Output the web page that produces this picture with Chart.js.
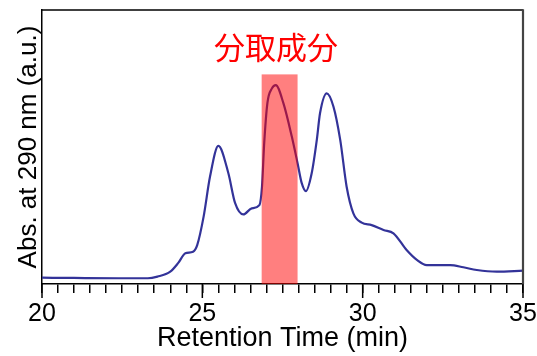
<!DOCTYPE html>
<html>
<head>
<meta charset="utf-8">
<script src="https://cdn.jsdelivr.net/npm/chart.js@4/dist/chart.umd.min.js"></script>
<style>
html,body{margin:0;padding:0;background:#fff;}
#wrap{width:537px;height:356px;position:relative;}
</style>
</head>
<body>
<div id="wrap"><canvas id="c" width="537" height="356"></canvas></div>
<script>
// Retention time (min)
const retentionTime = [20.0, 21.0, 22.4, 23.3, 23.6, 24.0, 24.25, 24.47, 24.71, 24.84, 25.04, 25.24, 25.5,
  25.81, 26.02, 26.28, 26.54, 26.78, 26.86, 26.93, 27.03, 27.17, 27.29, 27.53, 27.79, 27.97, 28.1, 28.23,
  28.41, 28.57, 28.67, 28.88, 29.09, 29.3, 29.5, 29.71, 29.97, 30.28, 30.65, 30.96, 31.37, 31.69, 32.0,
  32.4, 32.73, 33.14, 33.56, 34.18, 35.0];
// Absorbance at 290 nm (a.u.)
const absorbance = [2.3, 2.2, 2.1, 2.1, 2.7, 4.5, 7.7, 11.2, 11.8, 14.2, 24.6, 39.2, 50.4,
  40.5, 29.6, 25.4, 27.6, 28.8, 35.5, 51.5, 66.1, 71.4, 72.6, 65.9, 53.8, 44.1, 36.8, 33.9,
  40.4, 52.6, 62.3, 69.6, 64.7, 52.6, 35.5, 25.8, 22.4, 21.5, 19.7, 18.5, 12.4, 8.8, 6.9,
  6.9, 6.9, 6.1, 5.1, 4.5, 4.85];
// Collected fraction
const fractionStart = 26.85;
const fractionEnd = 27.97;
const fractionTop = 76.5;
const fractionLabel = "分取成分";
const fractionLabelX = 27.3;
const fractionLabelY = 86.5;
// Axes
const xMin = 20, xMax = 35, xMinorStep = 0.5, xMajorStep = 5;
const yMin = 0, yMax = 100;
const xTitle = "Retention Time (min)";
const yTitle = "Abs. at 290 nm (a.u.)";

const points = retentionTime.map((t, i) => ({x: t, y: absorbance[i]}));

const overlay = {
  id: 'overlay',
  afterDatasetsDraw(chart) {
    const {ctx, chartArea: a, scales: {x, y}} = chart;
    ctx.save();
    // fraction band
    const x0 = x.getPixelForValue(fractionStart), x1 = x.getPixelForValue(fractionEnd);
    const y0 = y.getPixelForValue(fractionTop), y1 = y.getPixelForValue(yMin);
    ctx.fillStyle = 'rgba(255,0,0,0.5)';
    ctx.fillRect(x0, y0, x1 - x0, y1 - y0);
    // label
    ctx.fillStyle = '#ff0000';
    ctx.font = '31px "Noto Sans CJK JP", sans-serif';
    ctx.textAlign = 'center';
    ctx.textBaseline = 'middle';
    ctx.fillText(fractionLabel, x.getPixelForValue(fractionLabelX), y.getPixelForValue(fractionLabelY));
    // frame top/right
    ctx.strokeStyle = '#000';
    ctx.lineWidth = 1.5;
    ctx.beginPath();
    ctx.moveTo(a.left, a.top);
    ctx.lineTo(a.right, a.top);
    ctx.stroke();
    ctx.strokeStyle = '#444';
    ctx.lineWidth = 2.2;
    ctx.beginPath();
    ctx.moveTo(a.right, a.top - 0.75);
    ctx.lineTo(a.right, a.bottom);
    ctx.stroke();
    // major ticks longer
    ctx.strokeStyle = '#000';
    ctx.lineWidth = 1.5;
    for (let v = xMin; v <= xMax + 1e-9; v += xMajorStep) {
      const px = x.getPixelForValue(v);
      ctx.beginPath();
      ctx.moveTo(px, a.bottom);
      ctx.lineTo(px, a.bottom + 14);
      ctx.stroke();
    }
    ctx.restore();
  }
};

new Chart(document.getElementById('c'), {
  type: 'line',
  data: {
    datasets: [{
      data: points,
      borderColor: '#333399',
      borderWidth: 2.2,
      pointRadius: 0,
      fill: false,
      cubicInterpolationMode: 'monotone'
    }]
  },
  options: {
    responsive: false,
    animation: false,
    layout: {padding: {left: 0, right: 14, top: 10, bottom: 0}},
    plugins: {legend: {display: false}, tooltip: {enabled: false}},
    scales: {
      x: {
        type: 'linear', min: xMin, max: xMax,
        afterFit(s) { s.height = 72; s.paddingLeft = 0; s.paddingRight = 0; },
        ticks: {
          stepSize: xMinorStep, autoSkip: false, maxRotation: 0,
          color: '#000', padding: 6,
          font: {family: '"Liberation Sans", Arial, sans-serif', size: 25},
          callback: (v) => (Math.abs(v % xMajorStep) < 1e-9 ? String(v) : '')
        },
        grid: {display: true, drawOnChartArea: false, drawTicks: true, tickLength: 9, color: '#000', lineWidth: 1.5},
        border: {display: true, color: '#000', width: 1.5},
        title: {display: true, text: xTitle, color: '#000', padding: {top: 0, bottom: 1},
          font: {family: '"Liberation Sans", Arial, sans-serif', size: 27}}
      },
      y: {
        type: 'linear', min: yMin, max: yMax,
        afterFit(s) { s.width = 42; },
        ticks: {display: false},
        grid: {display: false, drawTicks: false},
        border: {display: true, color: '#000', width: 1.5},
        title: {display: true, text: yTitle, color: '#000', padding: {top: 13, bottom: 0},
          font: {family: '"Liberation Sans", Arial, sans-serif', size: 26}}
      }
    }
  },
  plugins: [overlay]
});
</script>
</body>
</html>
